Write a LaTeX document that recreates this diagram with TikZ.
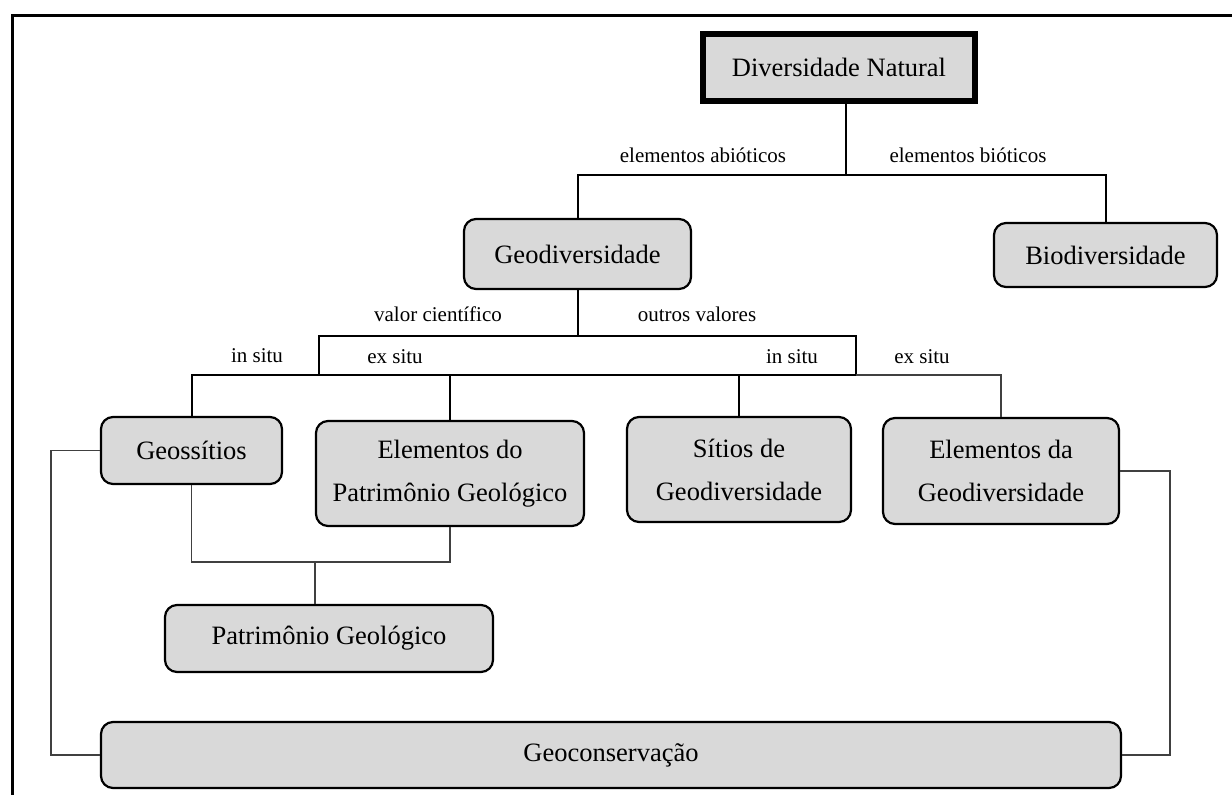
\documentclass[tikz,border=0pt]{standalone}
\usepackage{fontspec}
\setmainfont{Liberation Serif}
\usetikzlibrary{positioning}
\definecolor{boxgray}{RGB}{217,217,217}

\begin{document}
\begin{tikzpicture}[
x=1pt, y=-1pt,
box/.style={draw, line width=2.2pt, rounded corners=12pt, fill=boxgray, align=center, inner sep=0pt, font=\fontsize{26.5}{43}\selectfont},
rootbox/.style={box, sharp corners, line width=6pt},
lbl/.style={inner sep=0pt, font=\fontsize{21}{25}\selectfont},
tree/.style={line width=2pt},
thin/.style={line width=1.2pt, draw=black!75}
]
\useasboundingbox (0,0) rectangle (1232,795);
\draw[line width=3pt] (12,795) -- (12,15) -- (1232,15);

\node[rootbox, minimum width=272pt, minimum height=67pt] (dn) at (839,67.5) {Diversidade Natural};
\node[box, minimum width=227pt, minimum height=70pt] (geo) at (577.5,254) {Geodiversidade};
\node[box, minimum width=223pt, minimum height=64pt] (bio) at (1105.5,255) {Biodiversidade};
\node[box, minimum width=181pt, minimum height=67pt] (gs) at (191.5,450.5) {Geossítios};
\node[box, minimum width=268pt, minimum height=105pt] (ep) at (450,473.5) {Elementos do\\Patrimônio Geológico};
\node[box, minimum width=224pt, minimum height=105pt] (sg) at (739,469.5) {Sítios de\\Geodiversidade};
\node[box, minimum width=236pt, minimum height=106pt] (eg) at (1001,471) {Elementos da\\Geodiversidade};
\node[box, minimum width=328pt, minimum height=67pt] (pg) at (329,638.5) {Patrimônio Geológico};
\node[box, minimum width=1020pt, minimum height=66pt] (gc) at (611,755) {Geoconservação};

% labels
\node[lbl] (abio) at (703,155) {elementos abióticos};
\node[lbl] (bioe) at (968,155) {elementos bióticos};
\node[lbl] (vc) at (438,314) {valor científico};
\node[lbl] (ov) at (697,314) {outros valores};
\node[lbl] (is1) at (257,356) {in situ};
\node[lbl] (es1) at (395,357) {ex situ};
\node[lbl] (is2) at (792,357) {in situ};
\node[lbl] (es2) at (922,357) {ex situ};

% junctions
\coordinate (j1) at (846,175);
\coordinate (t2) at (577.5,336);
\coordinate (sci) at (319,375);
\coordinate (oth) at (856,375);
\coordinate (pj) at (315,562);
\coordinate (lc) at (51,0);
\coordinate (rc) at (1170,0);

\draw[tree] (dn.south -| j1) -- (j1);
\draw[tree] (geo.north) |- (j1) -| (bio.north);
\draw[tree] (geo.south) -- (t2);
\draw[tree] (sci) |- (t2) -| (oth);
\draw[tree] (gs.north) |- (oth);
\draw[tree] (ep.north) -- (ep.north |- sci);
\draw[tree] (sg.north) -- (sg.north |- oth);
\draw[thin] (oth) -| (eg.north);
\draw[thin] (gs.south) |- (pj) -| (ep.south);
\draw[thin] (pj) -- (pj |- pg.north);
\draw[thin] (gs.west) -- (gs.west -| lc) |- (gc.west);
\draw[thin] (eg.east) -- (eg.east -| rc) |- (gc.east);
\end{tikzpicture}
\end{document}
